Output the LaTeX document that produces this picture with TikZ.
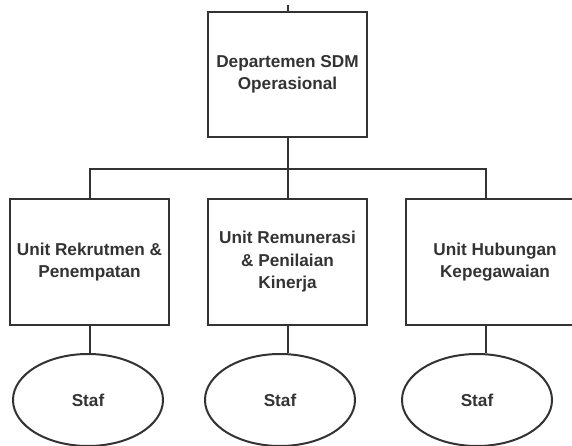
\documentclass[tikz,border=0pt]{standalone}
\usepackage{fontspec}
\setmainfont{Liberation Sans}
\usetikzlibrary{shapes.geometric}
\begin{document}
\begin{tikzpicture}[x=1pt,y=-1pt,line width=2pt,draw=black!80,
    unitbox/.style={draw=black!80,line width=2pt,rectangle,align=center,text=black!80,
      font=\bfseries\fontsize{17.2}{22.5}\selectfont,
      minimum width=159pt,minimum height=126pt,inner sep=0pt},
    stafell/.style={draw=black!80,line width=2pt,ellipse,text=black!80,
      font=\bfseries\fontsize{17.2}{22.5}\selectfont,
      minimum width=150pt,minimum height=92pt,inner sep=0pt}]
      \useasboundingbox (0,0) rectangle (572,446);
      \clip (0,0) rectangle (572,446);
      \node [unitbox,minimum height=125pt] (dept) at (287.5,74.5) {Departemen SDM\\Operasional};
      \node [unitbox] (rekrut) at (89.5,262) {Unit Rekrutmen \&\\Penempatan};
      \node [unitbox] (remun) at (287.5,262) {Unit Remunerasi\\\& Penilaian\\Kinerja};
      \node [unitbox,minimum width=178pt] (hub) at (495,262) {Unit Hubungan\\Kepegawaian};
      \node [stafell] (stafa) at (88,400) {Staf};
      \node [stafell] (stafb) at (280,400) {Staf};
      \node [stafell] (stafc) at (477,400) {Staf};
      \coordinate (top) at ([yshift=6pt]dept.north);
      \coordinate (barL) at (rekrut.north |- 0,169);
      \coordinate (barR) at (486,169);
      \draw (top)--(dept.north);
      \draw (dept.south)--(remun.north);
      \draw (rekrut.north)--(barL)--(barR)--(barR |- hub.north);
      \draw (rekrut.south)--(rekrut.south |- stafa.north);
      \draw (remun.south)--(remun.south |- stafb.north);
      \draw (barR |- hub.south)--(barR |- stafc.north);
   \end{tikzpicture}
\end{document}
